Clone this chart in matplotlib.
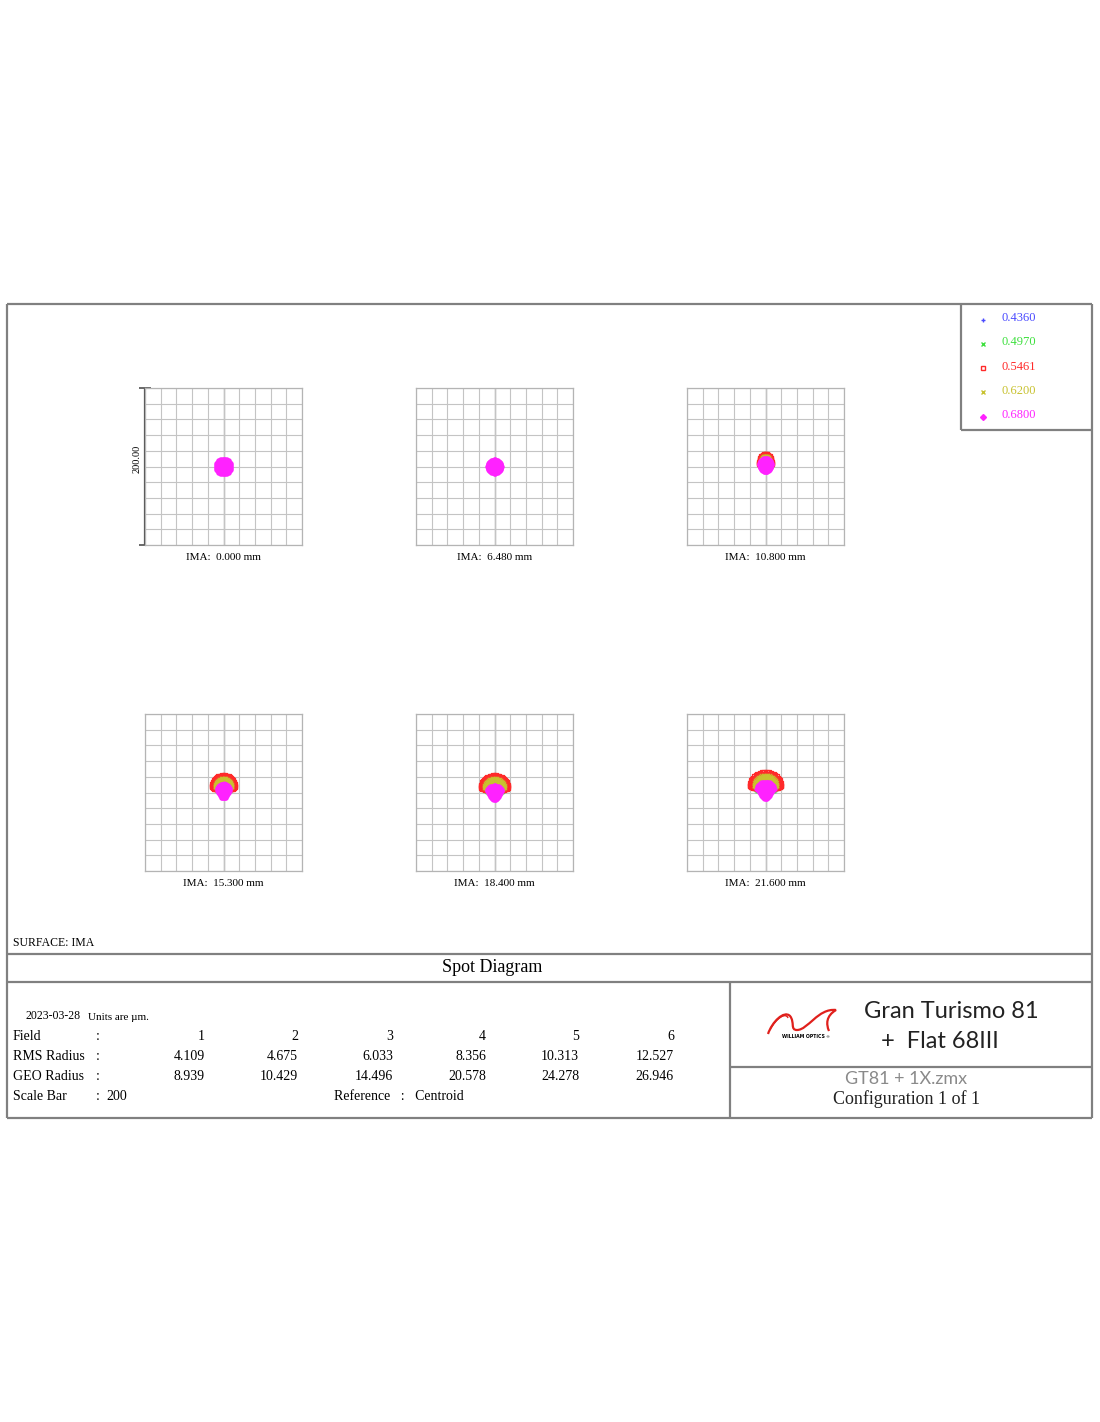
import numpy as np
import matplotlib
matplotlib.use("Agg")
import matplotlib.pyplot as plt
from matplotlib.path import Path
from matplotlib.patches import PathPatch

# ---------------- data ----------------
FIELDS_MM = [0.000, 6.480, 10.800, 15.300, 18.400, 21.600]
FIELD_NUM = [1, 2, 3, 4, 5, 6]
RMS_RADIUS = [4.109, 4.675, 6.033, 8.356, 10.313, 12.527]
GEO_RADIUS = [8.939, 10.429, 14.496, 20.578, 24.278, 26.946]
WAVELENGTHS = ["0.4360", "0.4970", "0.5461", "0.6200", "0.6800"]
WAVE_COLORS = ["#4a4aff", "#3ee03e", "#ff2a2a", "#c8c230", "#ff22ff"]
SCALE_BAR_UM = 200
DATE = "2023-03-28"

# spot shapes per wavelength (rows) and field (columns), in micrometres
SPOT_CY = [
    [0, 0, 2, 4, 2, 4],
    [0, 0, 2, 5, 3, 5],
    [0, 1, 4, 8, 7, 9],
    [0, 1, 4, 8, 7, 9],
    [0, 0, 2, 3, 1, 4],
]
SPOT_RX = [
    [7.0, 6.5, 6.5, 7.0, 8.0, 9.0],
    [6.0, 6.0, 7.0, 9.0, 11.0, 13.0],
    [5.0, 6.0, 8.0, 14.5, 17.0, 19.5],
    [7.0, 6.5, 6.5, 11.0, 13.0, 15.0],
    [10.0, 9.0, 8.0, 8.5, 10.0, 11.5],
]
SPOT_UP = [
    [7.0, 6.5, 7.0, 7.0, 6.0, 8.0],
    [6.0, 6.0, 8.0, 10.0, 11.0, 13.0],
    [5.0, 6.0, 12.0, 14.0, 15.0, 17.0],
    [7.0, 6.5, 10.0, 10.5, 11.5, 13.5],
    [10.0, 9.0, 9.0, 8.5, 8.0, 10.0],
]
SPOT_DN = [
    [7.0, 6.5, 7.0, 8.0, 7.0, 9.0],
    [6.0, 6.0, 5.0, 5.0, 5.0, 5.0],
    [5.0, 4.0, 3.0, 5.0, 5.0, 5.0],
    [7.0, 4.0, 3.0, 4.0, 4.0, 4.0],
    [10.0, 9.0, 9.0, 10.5, 10.5, 12.0],
]
SPOT_TAPER = [
    [0.0, 0.0, 0.2, 0.4, 0.5, 0.5],
    [0.0, 0.0, 0.0, 0.0, 0.0, 0.0],
    [0.0, 0.0, 0.0, 0.0, 0.0, 0.0],
    [0.0, 0.0, 0.0, 0.0, 0.0, 0.0],
    [0.0, 0.0, 0.1, 0.35, 0.45, 0.45],
]
N_RINGS = 9

# ---------------- helpers ----------------
W, H = 1100, 1422
fig = plt.figure(figsize=(W / 100, H / 100), dpi=100)
fig.patch.set_facecolor("white")
bg = fig.add_axes([0, 0, 1, 1])
bg.set_xlim(0, W)
bg.set_ylim(H, 0)
bg.axis("off")

SERIF = ["Liberation Serif", "DejaVu Serif"]
SANS = ["Lato", "DejaVu Sans"]
LINE = "#808080"


def px_axes(x0, y0, w, h):
    return fig.add_axes([x0 / W, 1 - (y0 + h) / H, w / W, h / H])


def hline(y, x0, x1, lw=1.6, c=LINE):
    bg.plot([x0, x1], [y, y], color=c, lw=lw, solid_capstyle="butt")


def vline(x, y0, y1, lw=1.6, c=LINE):
    bg.plot([x, x], [y0, y1], color=c, lw=lw, solid_capstyle="butt")


def pupil_points(cy, rx, up, dn, taper):
    xs, ys = [0.0], [cy]
    for k in range(1, N_RINGS + 1):
        rho = k / N_RINGS
        n = 6 * k
        th = 2 * np.pi * np.arange(n) / n
        c, s = np.cos(th), np.sin(th)
        xf = 1 - taper * np.clip(-c, 0, None) ** 0.5
        xs.extend(rx * rho * s * xf)
        ys.extend(cy + rho * c * np.where(c > 0, up, dn))
    return np.array(xs), np.array(ys)


# ---------------- frames ----------------
hline(304, 7, 1092)
hline(1118, 7, 1092)
vline(7, 304, 1118)
vline(1092, 304, 1118)
hline(954, 7, 1092)
hline(982, 7, 1092)
vline(730, 982, 1118)
hline(1067, 730, 1092)
# legend box
vline(961, 304, 430)
hline(430, 961, 1092)

LEG_MARKERS = ["+", "x", "s", "x", "D"]
for i, (wl, col) in enumerate(zip(WAVELENGTHS, WAVE_COLORS)):
    y = 318 + 24.3 * i
    bg.plot([983], [y + 1.5], marker=LEG_MARKERS[i], color=col, ms=3,
            mew=1.0, mfc="none" if LEG_MARKERS[i] == "s" else col)
    bg.text(1002, y, wl, color=col, fontsize=9, family=SERIF,
            va="center", ha="left")

# ---------------- spot panels ----------------
PANEL_X = [145, 416, 687]
PANEL_Y = [388, 714]
PANEL_S = 157
SPOT_MARKERS = ["+", "x", "s", "x", "o"]
for fi, fmm in enumerate(FIELDS_MM):
    row, col = divmod(fi, 3)
    x0, y0 = PANEL_X[col], PANEL_Y[row]
    ax = px_axes(x0, y0, PANEL_S, PANEL_S)
    half = SCALE_BAR_UM / 2
    ax.set_xlim(-half, half)
    ax.set_ylim(-half, half)
    ticks = np.linspace(-half, half, 11)
    ax.set_xticks(ticks)
    ax.set_yticks(ticks)
    ax.grid(True, color="#c4c4c4", lw=0.8)
    ax.tick_params(length=0, labelbottom=False, labelleft=False)
    ax.axvline(0, color="#a8a8a8", lw=1.0, zorder=0.5)
    for sp in ax.spines.values():
        sp.set_color("#b4b4b4")
        sp.set_linewidth(0.9)
    ax.set_axisbelow(True)
    for wi in range(len(WAVELENGTHS)):
        px, py = pupil_points(SPOT_CY[wi][fi], SPOT_RX[wi][fi], SPOT_UP[wi][fi],
                              SPOT_DN[wi][fi], SPOT_TAPER[wi][fi])
        m = SPOT_MARKERS[wi]
        if m in ("+", "x"):
            ax.scatter(px, py, s=6, marker=m, color=WAVE_COLORS[wi], lw=0.6,
                       zorder=2 + wi)
        elif m == "s":
            ax.scatter(px, py, s=8, marker=m, facecolor="none",
                       edgecolor=WAVE_COLORS[wi], lw=0.9, zorder=2 + wi)
        else:
            ax.scatter(px, py, s=9, marker=m, color=WAVE_COLORS[wi], lw=0,
                       zorder=2 + wi)
    bg.text(x0 + PANEL_S / 2, y0 + PANEL_S + 12, f"IMA:  {fmm:.3f} mm",
            fontsize=8, family=SERIF, ha="center", va="center")

# scale bar
vline(145, 388, 545, lw=1.6, c="#505050")
hline(388, 139, 151, lw=1.2, c="#505050")
hline(545, 139, 151, lw=1.2, c="#505050")
bg.text(137, 459, f"{SCALE_BAR_UM:.2f}", rotation=90, fontsize=7.5,
        family=SERIF, ha="center", va="center")

# ---------------- text blocks ----------------
bg.text(13, 943, "SURFACE: IMA", fontsize=8.5, family=SERIF, va="center")
bg.text(492, 968, "Spot Diagram", fontsize=13, family=SERIF, ha="center",
        va="center")
bg.text(25, 1016, DATE, fontsize=8.5, family=SERIF, va="center")
bg.text(88, 1017, "Units are µm.", fontsize=8, family=SERIF, va="center")

ROW_Y = [1036, 1056, 1076, 1097]
for lab, y in zip(["Field", "RMS Radius", "GEO Radius", "Scale Bar"], ROW_Y):
    bg.text(13, y, lab, fontsize=10, family=SERIF, va="center")
for y in ROW_Y[:3]:
    bg.text(96, y, ":", fontsize=10, family=SERIF, va="center")
bg.text(96, ROW_Y[3], ":", fontsize=10, family=SERIF, va="center")
bg.text(106, ROW_Y[3], f"{SCALE_BAR_UM}", fontsize=10, family=SERIF,
        va="center")

COL_X = [205, 298, 393, 486, 579, 674]
for i in range(6):
    bg.text(COL_X[i], ROW_Y[0], f"{FIELD_NUM[i]}", fontsize=10, family=SERIF,
            ha="right", va="center")
    bg.text(COL_X[i], ROW_Y[1], f"{RMS_RADIUS[i]:.3f}", fontsize=10,
            family=SERIF, ha="right", va="center")
    bg.text(COL_X[i], ROW_Y[2], f"{GEO_RADIUS[i]:.3f}", fontsize=10,
            family=SERIF, ha="right", va="center")
bg.text(334, ROW_Y[3], "Reference   :   Centroid", fontsize=10, family=SERIF,
        va="center")

# ---------------- title block ----------------
bg.text(951, 1011, "Gran Turismo 81", fontsize=17, family=SANS, ha="center",
        va="center", color="#222222")
bg.text(940, 1041, "+  Flat 68III", fontsize=17, family=SANS, ha="center",
        va="center", color="#222222")
bg.text(906, 1079, "GT81 + 1X.zmx", fontsize=13, family=SANS,
        ha="center", va="center", color="#8a8a8a")
bg.text(907, 1099, "Configuration 1 of 1", fontsize=13, family=SERIF,
        ha="center", va="center", color="#222222")

# logo swoosh
verts = [(768, 1034), (772, 1022), (784, 1010), (790, 1016),
         (795, 1022), (790, 1030), (797, 1030),
         (808, 1030), (818, 1008), (836, 1010),
         (826, 1016), (826, 1024), (829, 1031)]
codes = [Path.MOVETO, Path.CURVE4, Path.CURVE4, Path.CURVE4,
         Path.CURVE4, Path.CURVE4, Path.CURVE4,
         Path.CURVE4, Path.CURVE4, Path.CURVE4,
         Path.CURVE4, Path.CURVE4, Path.CURVE4]
bg.add_patch(PathPatch(Path(verts, codes), fill=False, ec="#e0201c", lw=1.6))
verts2 = [(770, 1030), (776, 1018), (786, 1012), (788, 1018)]
bg.add_patch(PathPatch(Path(verts2, [Path.MOVETO, Path.CURVE4, Path.CURVE4,
                                     Path.CURVE4]), fill=False, ec="#e0201c",
                       lw=1.0))
bg.text(803, 1037, "WILLIAM OPTICS", fontsize=3.3, fontweight="bold",
        family=["DejaVu Sans"], ha="center", va="center")
bg.text(827, 1037.5, "®", fontsize=3, family=["DejaVu Sans"], ha="center",
        va="center")

fig.savefig("out.png", dpi=100, facecolor="white")
